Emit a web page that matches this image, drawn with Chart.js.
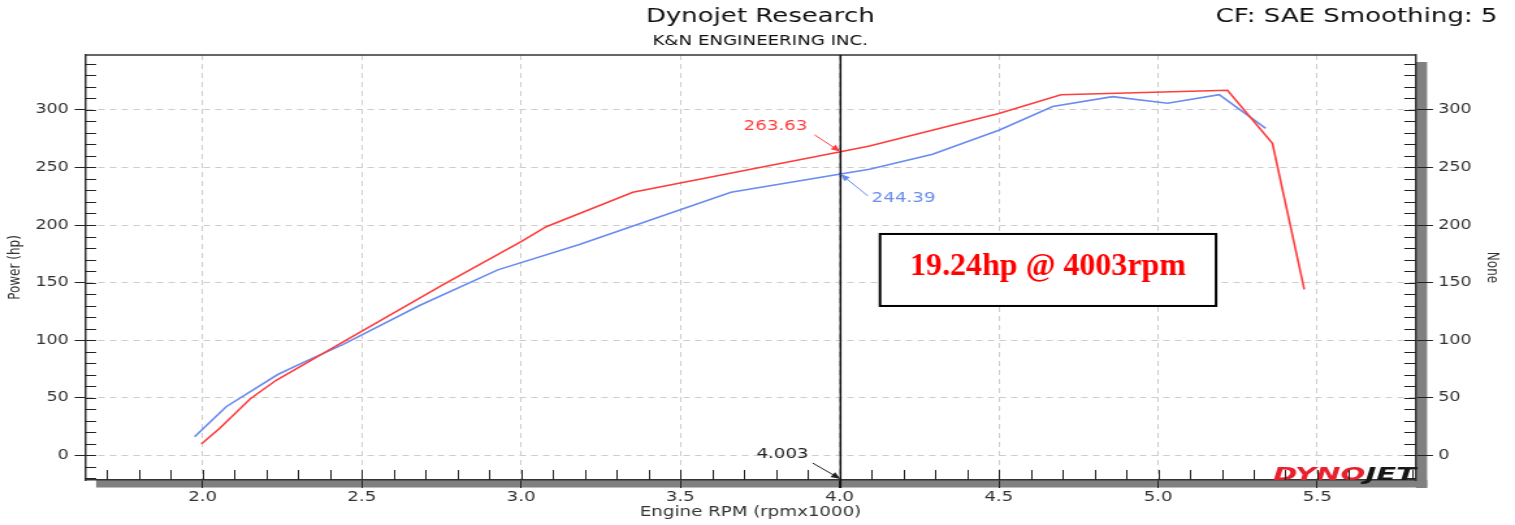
<!DOCTYPE html>
<html>
<head>
<meta charset="utf-8">
<title>Dynojet Research</title>
<script src="https://cdn.jsdelivr.net/npm/chart.js@4.4.1/dist/chart.umd.min.js"></script>
<style>
  html, body { margin: 0; padding: 0; background: #fff; }
  #dyno { display: block; width: 1515px !important; height: 525px !important; }
</style>
</head>
<body>
<canvas id="dyno" width="1165" height="525" style="width:1515px;height:525px"></canvas>
<script>
const fontFamily = '"DejaVu Sans", Verdana, sans-serif';
const inkColor = "#2b2b2b";
const redColor = "#ff3d3d";
const blueColor = "#6a8cf0";
// the source screenshot is stretched sideways, so the canvas is drawn narrower and widened by css
const stretch = 1515 / 1165;

// run data, engine rpm (x1000) and power (hp)
const rpmRed = [1.996, 2.053, 2.15, 2.231, 2.451, 2.754, 3.0, 3.079, 3.351, 4.003, 4.094, 4.5, 4.695, 5.218, 5.359, 5.459];
const hpRed = [9.6, 23, 49, 65, 100, 148, 185.5, 198.5, 228.4, 263.6, 268.7, 297, 313.3, 317.1, 271, 144];
const rpmBlue = [1.975, 2.074, 2.236, 2.32, 2.44, 2.681, 2.927, 3.183, 3.659, 4.003, 4.094, 4.292, 4.502, 4.669, 4.857, 5.03, 5.192, 5.338];
const hpBlue = [16, 42, 70, 81, 96, 130, 161, 183, 228.4, 244.4, 248.4, 261.5, 282.6, 303, 311.6, 305.8, 313.3, 284];

const xTicks = [2.0, 2.5, 3.0, 3.5, 4.0, 4.5, 5.0, 5.5];
const yTicks = [0, 50, 100, 150, 200, 250, 300];
const xRange = [1.631, 5.81];
const yRange = [-21.7, 347.8];

// cursor readout
const cursorRpm = 4.003;
const cursorRed = 263.63;
const cursorBlue = 244.39;
const deltaText = "19.24hp @ 4003rpm";

Chart.defaults.font.family = fontFamily;

function arrow(ctx, x0, y0, x1, y1, color) {
    const a = Math.atan2(y1 - y0, x1 - x0);
    const head = 8;
    ctx.strokeStyle = color;
    ctx.fillStyle = color;
    ctx.lineWidth = 1;
    ctx.beginPath();
    ctx.moveTo(x0, y0);
    ctx.lineTo(x1 - 5 * Math.cos(a), y1 - 5 * Math.sin(a));
    ctx.stroke();
    ctx.beginPath();
    ctx.moveTo(x1, y1);
    ctx.lineTo(x1 - head * Math.cos(a - 0.38), y1 - head * Math.sin(a - 0.38));
    ctx.lineTo(x1 - head * Math.cos(a + 0.38), y1 - head * Math.sin(a + 0.38));
    ctx.closePath();
    ctx.fill();
}

const dynoFrame = {
    id: 'dynoFrame',
    beforeDraw(chart) {
        const { ctx, chartArea: { left, right, top, bottom } } = chart;
        ctx.save();
        ctx.fillStyle = "#fff";
        ctx.fillRect(0, 0, chart.width, chart.height);
        // drop shadow right and below the plot
        ctx.fillStyle = "#808080";
        ctx.fillRect(right, top + 7, 8.5, bottom - top + 1);
        ctx.fillRect(left + 8.5, bottom, right - left, 7.5);

        ctx.fillStyle = "#111";
        ctx.textBaseline = 'middle';
        ctx.textAlign = 'center';
        ctx.font = '20px ' + fontFamily;
        ctx.fillText('Dynojet Research', 584.6, 17);
        ctx.font = '14px ' + fontFamily;
        ctx.fillText('K&N ENGINEERING INC.', 584.6, 41);
        ctx.textAlign = 'right';
        ctx.font = '20px ' + fontFamily;
        ctx.fillText('CF: SAE Smoothing: 5', 1151.5, 17);
        ctx.restore();
    },
    beforeDatasetsDraw(chart) {
        const { ctx, chartArea: { left, right, top, bottom }, scales: { x, y } } = chart;
        ctx.save();

        // logo in the bottom right corner
        ctx.font = 'italic bold 18px ' + fontFamily;
        ctx.textBaseline = 'alphabetic';
        ctx.textAlign = 'left';
        const wDyno = ctx.measureText('DYNO').width;
        const wJet = ctx.measureText('JET').width;
        const k = 110 / (wDyno + wJet);
        ctx.translate(right - 110, bottom);
        ctx.scale(k, 1);
        ctx.fillStyle = "#e8202e";
        ctx.fillText('DYNO', 0, 0);
        ctx.fillStyle = "#151515";
        ctx.fillText('JET', wDyno, 0);
        ctx.setTransform(1, 0, 0, 1, 0, 0);

        // minor ticks inside the frame
        ctx.strokeStyle = "#222";
        ctx.lineWidth = 1;
        ctx.beginPath();
        for (let i = Math.ceil(xRange[0] * 10); i <= Math.floor(xRange[1] * 10); i++) {
            const px = Math.round(x.getPixelForValue(i / 10)) + 0.5;
            ctx.moveTo(px, bottom - 10);
            ctx.lineTo(px, bottom);
        }
        for (let i = Math.ceil(yRange[0] / 10); i <= Math.floor(yRange[1] / 10); i++) {
            const py = Math.round(y.getPixelForValue(i * 10)) + 0.5;
            ctx.moveTo(left, py);
            ctx.lineTo(left + 8.5, py);
            ctx.moveTo(right - 9, py);
            ctx.lineTo(right, py);
        }
        ctx.stroke();

        // top edge of the frame
        ctx.strokeStyle = "#333";
        ctx.lineWidth = 1.5;
        ctx.beginPath();
        ctx.moveTo(left, top);
        ctx.lineTo(right, top);
        ctx.stroke();
        ctx.restore();
    },
    afterDatasetsDraw(chart) {
        const { ctx, chartArea: { top, bottom }, scales: { x, y } } = chart;
        const cx = x.getPixelForValue(cursorRpm);
        ctx.save();

        // cursor line
        ctx.strokeStyle = "#111";
        ctx.lineWidth = 1.5;
        ctx.beginPath();
        ctx.moveTo(cx, top);
        ctx.lineTo(cx, bottom + 8);
        ctx.stroke();

        ctx.font = '14px ' + fontFamily;
        ctx.textAlign = 'center';
        ctx.textBaseline = 'middle';

        const ry = y.getPixelForValue(cursorRed);
        arrow(ctx, cx - 20, ry - 17, cx, ry, redColor);
        ctx.fillText(cursorRed.toFixed(2), cx - 50, ry - 25);

        const by = y.getPixelForValue(cursorBlue);
        arrow(ctx, cx + 21, by + 22, cx, by, blueColor);
        ctx.fillText(cursorBlue.toFixed(2), cx + 48.5, by + 24.5);

        arrow(ctx, cx - 21.5, bottom - 17, cx, bottom - 1, "#222");
        ctx.fillStyle = "#222";
        ctx.fillText(cursorRpm.toFixed(3), cx - 44.6, bottom - 26);

        // difference box
        const bx1 = x.getPixelForValue(4.127), bx2 = x.getPixelForValue(5.182);
        const by1 = y.getPixelForValue(192.2), by2 = y.getPixelForValue(129.6);
        ctx.fillStyle = "#fff";
        ctx.fillRect(bx1, by1, bx2 - bx1, by2 - by1);
        ctx.strokeStyle = "#000";
        ctx.lineWidth = 2;
        ctx.strokeRect(bx1, by1, bx2 - bx1, by2 - by1);
        ctx.translate((bx1 + bx2) / 2, by1 + 41);
        ctx.scale(1 / stretch, 1);
        ctx.font = 'bold 32px "Liberation Serif", "Times New Roman", serif';
        ctx.textBaseline = 'alphabetic';
        ctx.fillStyle = "#ff0000";
        ctx.fillText(deltaText, 0, 0);
        ctx.restore();
    }
};

const tickFont = { family: fontFamily, size: 13.5 };

new Chart("dyno", {
    type: "line",
    data: {
        datasets: [{
            label: "Run 1",
            data: rpmRed.map((v, i) => ({ x: v, y: hpRed[i] })),
            borderColor: redColor,
            borderWidth: 1.6,
            pointRadius: 0,
            tension: 0,
        },
        {
            label: "Run 2",
            data: rpmBlue.map((v, i) => ({ x: v, y: hpBlue[i] })),
            borderColor: blueColor,
            borderWidth: 1.6,
            pointRadius: 0,
            tension: 0,
        }],
    },
    options: {
        responsive: false,
        devicePixelRatio: 1,
        animation: false,
        events: [],
        layout: { padding: { top: 55, left: 0, right: 0, bottom: 0 } },
        plugins: {
            legend: { display: false },
            tooltip: { enabled: false },
            title: { display: false },
        },
        scales: {
            x: {
                type: 'linear',
                position: 'bottom',
                min: xRange[0],
                max: xRange[1],
                afterFit: s => { s.height = 45; },
                afterBuildTicks: s => { s.ticks = xTicks.map(v => ({ value: v })); },
                ticks: {
                    callback: v => Number(v).toFixed(1),
                    font: { family: fontFamily, size: 14 },
                    color: "#333",
                    padding: 1,
                    maxRotation: 0,
                    autoSkip: false,
                },
                grid: { color: "#cdcdcd", lineWidth: 1, tickLength: 8, tickColor: "#222", tickWidth: 1 },
                border: { display: true, color: "#333", width: 1.5, dash: [5, 4] },
                title: {
                    display: true,
                    text: 'Engine RPM (rpmx1000)',
                    font: { family: fontFamily, size: 14 },
                    color: "#333",
                    padding: { top: 0, bottom: 4 },
                },
            },
            y: {
                type: 'linear',
                position: 'left',
                min: yRange[0],
                max: yRange[1],
                afterFit: s => { s.width = 65.4; },
                afterBuildTicks: s => { s.ticks = yTicks.map(v => ({ value: v })); },
                ticks: { font: tickFont, color: "#333", padding: 4.5 },
                grid: { color: "#cdcdcd", lineWidth: 1, tickLength: 8, tickColor: "#222", tickWidth: 1 },
                border: { display: true, color: "#333", width: 1.5, dash: [5, 4] },
                title: {
                    display: true,
                    text: 'Power (hp)',
                    font: { family: fontFamily, size: 12 },
                    color: "#333",
                    padding: { top: 5, bottom: 0 },
                },
            },
            y2: {
                type: 'linear',
                position: 'right',
                min: yRange[0],
                max: yRange[1],
                afterFit: s => { s.width = 76.1; },
                afterBuildTicks: s => { s.ticks = yTicks.map(v => ({ value: v })); },
                ticks: { font: tickFont, color: "#333", padding: 4 },
                grid: { drawOnChartArea: false, tickLength: 13, tickColor: "#222", tickWidth: 1 },
                border: { display: true, color: "#333", width: 1.5 },
                title: {
                    display: true,
                    text: 'None',
                    font: { family: fontFamily, size: 12 },
                    color: "#333",
                    padding: { top: 10.5, bottom: 0 },
                },
            },
        },
    },
    plugins: [dynoFrame]
});
</script>
</body>
</html>
